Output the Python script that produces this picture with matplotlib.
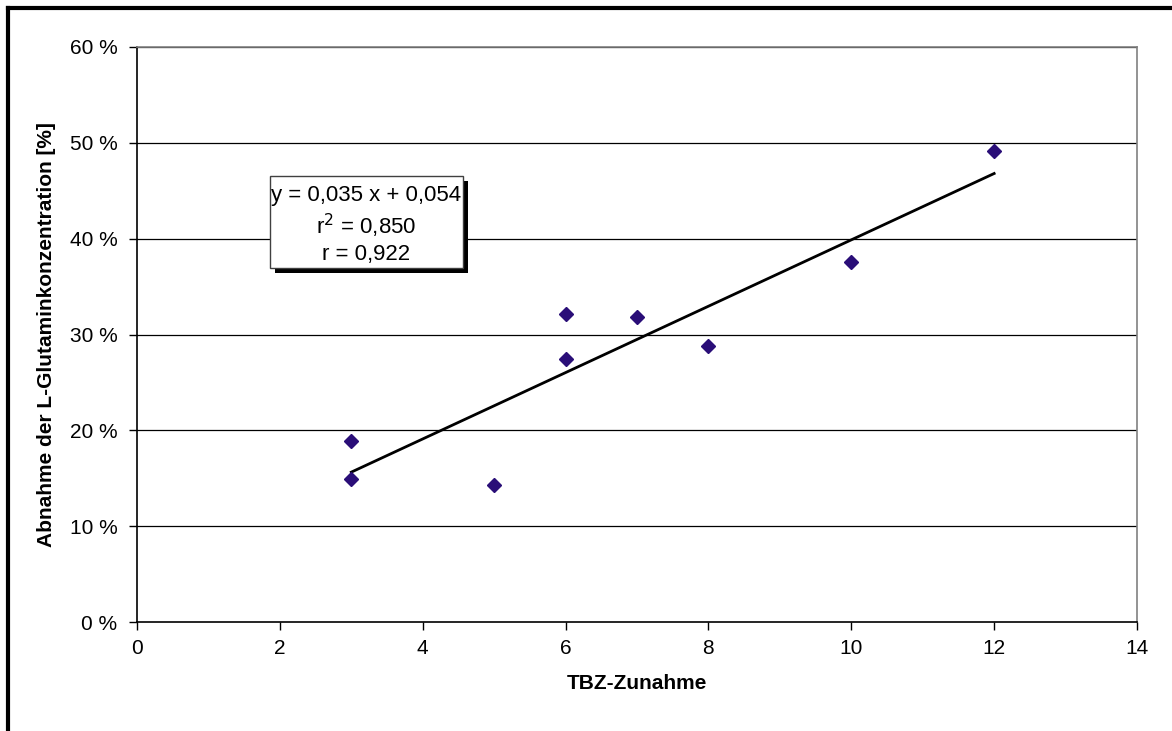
import numpy as np
import matplotlib
matplotlib.use("Agg")
import matplotlib.pyplot as plt
from matplotlib.lines import Line2D
from matplotlib.patches import Rectangle
from matplotlib.ticker import FuncFormatter

plt.rcParams['font.family'] = ['Liberation Sans', 'DejaVu Sans']

tbz = [3, 3, 5, 6, 6, 7, 8, 10, 12]
abnahme = [0.189, 0.149, 0.143, 0.321, 0.274, 0.318, 0.288, 0.376, 0.492]
x_ticks = [0, 2, 4, 6, 8, 10, 12, 14]
y_ticks = [0.0, 0.1, 0.2, 0.3, 0.4, 0.5, 0.6]
box_text = "y = 0,035 x + 0,054\nr$^2$ = 0,850\nr = 0,922"

W, H = 1172, 731
fig = plt.figure(figsize=(W / 100, H / 100), dpi=100)
ax = fig.add_axes([137 / W, 1 - 622 / H, 1000 / W, 575 / H])

for yv in y_ticks[1:]:
    ax.axhline(yv, color='black', lw=0.9, zorder=1)

ax.plot(tbz, abnahme, linestyle='none', marker='D', markersize=7,
        color='#2A0E78', zorder=3)

slope, inter = np.polyfit(tbz, abnahme, 1)
xs = np.array([min(tbz), max(tbz)])
ax.plot(xs, slope * xs + inter, color='black', lw=2, zorder=2)

ax.set_xlim(0, 14)
ax.set_ylim(0, 0.6)
ax.set_xticks(x_ticks)
ax.set_yticks(y_ticks)
ax.yaxis.set_major_formatter(FuncFormatter(lambda v, p: f"{int(round(v * 100))} %"))
ax.tick_params(direction='out', length=6, width=1, labelsize=15, pad=6, color='black')
ax.tick_params(axis='y', pad=8)
ax.spines['left'].set_color('black')
ax.spines['bottom'].set_color('black')
ax.spines['top'].set_color('#808080')
ax.spines['right'].set_color('#808080')
for s in ax.spines.values():
    s.set_linewidth(1.2)

ax.set_xlabel("TBZ-Zunahme", fontsize=15, fontweight='bold', labelpad=12)
ax.set_ylabel("Abnahme der L-Glutaminkonzentration [%]", fontsize=15,
              fontweight='bold', labelpad=10)

# text box (drawn as rectangle + text) with shadow
fig.patches.append(Rectangle((275 / W, 1 - 273 / H), 193 / W, 92 / H,
                             transform=fig.transFigure, facecolor='black',
                             edgecolor='none', zorder=0))
fig.patches.append(Rectangle((270 / W, 1 - 268 / H), 193 / W, 92 / H,
                             transform=fig.transFigure, facecolor='white',
                             edgecolor='#404040', lw=1.0, zorder=0.5))
fig.text(366.5 / W, 1 - 225 / H, box_text, ha='center', va='center',
         fontsize=16, linespacing=1.25, zorder=10)

# outer frame
fig.add_artist(Line2D([8 / W, 1], [1 - 8 / H, 1 - 8 / H], color='black', lw=3,
                      transform=fig.transFigure))
fig.add_artist(Line2D([8 / W, 8 / W], [0, 1 - 8 / H], color='black', lw=3,
                      transform=fig.transFigure))

fig.savefig("out.png", dpi=100)
